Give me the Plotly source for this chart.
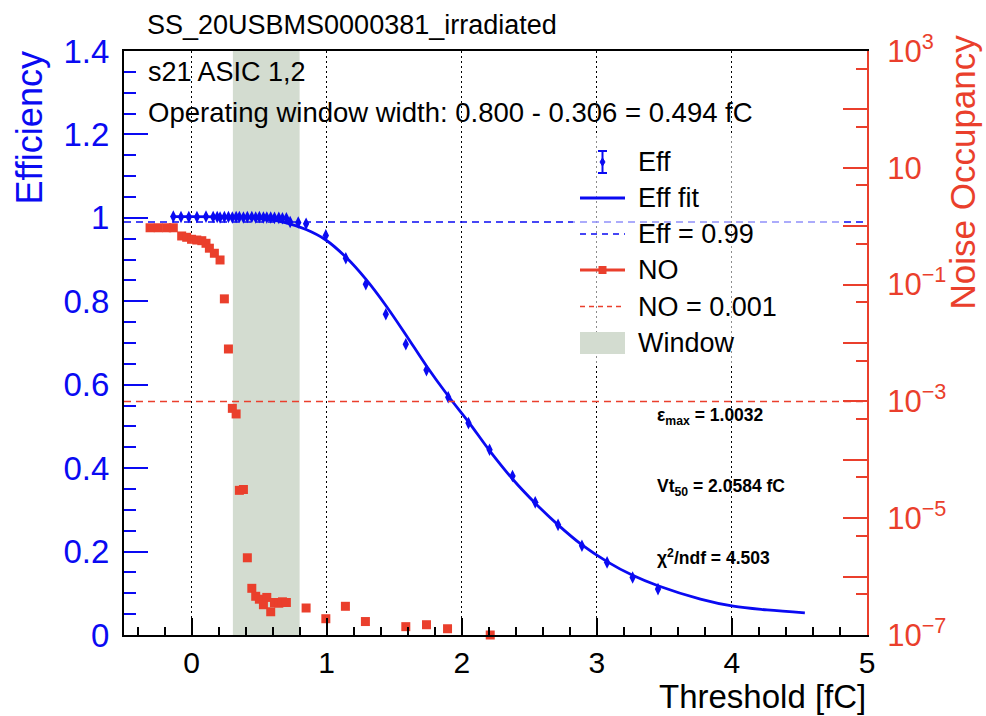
import plotly.graph_objects as go

# ---------------- data ----------------
eff_x = [-0.135, -0.078, -0.02, 0.04, 0.107, 0.16, 0.19, 0.211, 0.243, 0.273, 0.302, 0.33,
         0.354, 0.384, 0.413, 0.446, 0.475, 0.502, 0.532, 0.557, 0.586, 0.614, 0.646, 0.673,
         0.702, 0.73, 0.79, 0.848, 0.994, 1.142, 1.29, 1.438, 1.586, 1.739, 1.9, 2.05,
         2.206, 2.376, 2.544, 2.713, 2.89, 3.076, 3.265, 3.453]
eff_y = [1.003, 1.002, 1.002, 1.002, 1.003, 1.002, 1.002, 1.001, 1.002, 1.002, 1.001, 1.002,
         1.002, 1.001, 1.002, 1.002, 1.001, 1.002, 1.001, 1.001, 1.001, 1.0, 1.0, 0.999,
         0.999, 0.99, 0.989, 0.986, 0.958, 0.903, 0.841, 0.769, 0.697, 0.635, 0.570, 0.508,
         0.444, 0.381, 0.318, 0.264, 0.214, 0.174, 0.138, 0.110]
eff_err = [0.004, 0.004, 0.004, 0.004, 0.004, 0.004, 0.004, 0.004, 0.004, 0.004, 0.004, 0.004,
           0.004, 0.004, 0.004, 0.004, 0.004, 0.004, 0.004, 0.004, 0.004, 0.004, 0.004, 0.004,
           0.005, 0.006, 0.006, 0.007, 0.008, 0.009, 0.009, 0.010, 0.010, 0.010, 0.010, 0.010,
           0.010, 0.010, 0.009, 0.009, 0.008, 0.008, 0.008, 0.009]

fit_x = [-0.135, 0.3, 0.55, 0.7, 0.848, 0.994, 1.142, 1.29, 1.438, 1.586, 1.739, 1.9, 2.05,
         2.206, 2.376, 2.544, 2.713, 2.89, 3.076, 3.265, 3.453, 3.767, 4.01, 4.26, 4.54]
fit_y = [1.003, 1.002, 0.997, 0.988, 0.972, 0.947, 0.906, 0.853, 0.79, 0.72, 0.645, 0.573,
         0.511, 0.442, 0.374, 0.316, 0.264, 0.216, 0.176, 0.143, 0.118, 0.086, 0.069, 0.06,
         0.053]

no_x = [-0.307, -0.246, -0.184, -0.135, -0.073, -0.036, 0.0, 0.039, 0.076, 0.107, 0.132,
        0.169, 0.211, 0.243, 0.273, 0.302, 0.33, 0.354, 0.384, 0.413, 0.446, 0.475, 0.502,
        0.532, 0.557, 0.586, 0.614, 0.646, 0.673, 0.702, 0.848, 0.994, 1.139, 1.287, 1.586,
        1.739, 1.895, 2.211]
no_y = [0.94, 0.94, 0.94, 0.94, 0.68, 0.646, 0.597, 0.58, 0.565, 0.51, 0.42,
        0.344, 0.264, 0.057, 0.0079, 7.6e-4, 6.1e-4, 3.0e-5, 3.1e-5, 2.1e-6, 6.3e-7, 4.6e-7, 4.1e-7,
        3.3e-7, 4.4e-7, 2.5e-7, 3.6e-7, 3.5e-7, 3.7e-7, 3.6e-7, 2.9e-7, 1.9e-7, 3.1e-7, 1.7e-7, 1.39e-7,
        1.5e-7, 1.28e-7, 1.0e-7]

eff_threshold = 0.99
no_threshold = 0.001
window_lo = 0.306
window_hi = 0.800
x_range = [-0.5, 5.0]

no_tickvals = [1e-7, 1e-6, 1e-5, 1e-4, 1e-3, 1e-2, 1e-1, 1, 10, 100, 1000]
no_ticktext = ["10<sup>−7</sup>", "", "10<sup>−5</sup>", "", "10<sup>−3</sup>", "",
               "10<sup>−1</sup>", "", "10", "", "10<sup>3</sup>"]
no_minorvals = [5e-7, 5e-6, 5e-5, 5e-4, 5e-3, 5e-2, 0.5, 5, 50, 500]

title_text = "SS_20USBMS0000381_irradiated"
asic_text = "s21 ASIC 1,2"
window_text = "Operating window width: 0.800 - 0.306 = 0.494 fC"
stats_text = ["<b>ε<sub>max</sub> = 1.0032</b>", "<b>Vt<sub>50</sub> = 2.0584 fC</b>",
              "<b>χ<sup>2</sup>/ndf = 4.503</b>"]
legend_labels = ["Eff", "Eff fit", "Eff = 0.99", "NO", "NO = 0.001", "Window"]

# ---------------- style ----------------
FONT = "Liberation Sans, Arial, Helvetica, sans-serif"
BLUE = "#0a0af2"
RED = "#ea3f2c"
WIN = "#d3dcd0"
W, H = 986, 716
L, R, T, B = 124, 867, 51, 635


def px(x):
    return (x - L) / (R - L)


def py(y):
    return (B - y) / (B - T)


fig = go.Figure()

fig.add_trace(go.Scatter(x=fit_x, y=fit_y, mode="lines", line=dict(color=BLUE, width=2.8, shape="spline"),
                         showlegend=False, hoverinfo="skip"))
fig.add_trace(go.Scatter(x=eff_x, y=eff_y, mode="markers",
                         marker=dict(symbol="diamond-tall", size=9, color=BLUE),
                         error_y=dict(type="data", array=eff_err, color=BLUE, thickness=1.5, width=0),
                         showlegend=False))
fig.add_trace(go.Scatter(x=x_range, y=[eff_threshold, eff_threshold], mode="lines",
                         line=dict(color=BLUE, width=1.5, dash="7px,5px"), showlegend=False))
fig.add_trace(go.Scatter(x=no_x, y=no_y, mode="markers", yaxis="y2", cliponaxis=False,
                         marker=dict(symbol="square", size=9, color=RED), showlegend=False))
fig.add_trace(go.Scatter(x=x_range, y=[no_threshold, no_threshold], mode="lines", yaxis="y2",
                         line=dict(color=RED, width=1.5, dash="7px,5px"), showlegend=False))

shapes = []
# operating window band
shapes.append(dict(type="rect", xref="x", yref="paper", x0=window_lo, x1=window_hi, y0=0, y1=1,
                   fillcolor=WIN, line=dict(width=0), layer="below"))
# legend background (semi transparent)
shapes.append(dict(type="rect", xref="paper", yref="paper", x0=px(573), x1=px(843), y0=py(365), y1=py(135),
                   fillcolor="rgba(255,255,255,0.55)", line=dict(width=0), layer="above"))

ly = [162, 198, 234, 270, 306.5, 343]
sx0, sx1, sxc = 580, 625, 602.5
# Eff symbol: error bar with caps + diamond
shapes.append(dict(type="line", xref="paper", yref="paper", x0=px(sxc), x1=px(sxc), y0=py(ly[0] - 11), y1=py(ly[0] + 11),
                   line=dict(color=BLUE, width=2), layer="above"))
for cy in (ly[0] - 11, ly[0] + 11):
    shapes.append(dict(type="line", xref="paper", yref="paper", x0=px(sxc - 4.5), x1=px(sxc + 4.5), y0=py(cy), y1=py(cy),
                       line=dict(color=BLUE, width=2), layer="above"))
shapes.append(dict(type="path", xref="paper", yref="paper",
                   path="M {a},{b} L {c},{d} L {a},{e} L {f},{d} Z".format(
                       a=px(sxc), b=py(ly[0] - 4), c=px(sxc + 2.5), d=py(ly[0]), e=py(ly[0] + 4), f=px(sxc - 2.5)),
                   fillcolor=BLUE, line=dict(color=BLUE, width=1), layer="above"))
# Eff fit
shapes.append(dict(type="line", xref="paper", yref="paper", x0=px(sx0), x1=px(sx1), y0=py(ly[1]), y1=py(ly[1]),
                   line=dict(color=BLUE, width=3), layer="above"))
# Eff = 0.99
shapes.append(dict(type="line", xref="paper", yref="paper", x0=px(sx0), x1=px(sx1), y0=py(ly[2]), y1=py(ly[2]),
                   line=dict(color=BLUE, width=1.5, dash="6px,5px"), layer="above"))
# NO
shapes.append(dict(type="line", xref="paper", yref="paper", x0=px(sx0), x1=px(sx1), y0=py(ly[3]), y1=py(ly[3]),
                   line=dict(color=RED, width=3), layer="above"))
shapes.append(dict(type="rect", xref="paper", yref="paper", x0=px(sxc - 4), x1=px(sxc + 4), y0=py(ly[3] - 4), y1=py(ly[3] + 4),
                   fillcolor=RED, line=dict(width=0), layer="above"))
# NO = 0.001
shapes.append(dict(type="line", xref="paper", yref="paper", x0=px(sx0), x1=px(sx1), y0=py(ly[4]), y1=py(ly[4]),
                   line=dict(color=RED, width=1.3, dash="5px,4px"), layer="above"))
# Window
shapes.append(dict(type="rect", xref="paper", yref="paper", x0=px(sx0), x1=px(sx1), y0=py(ly[5] + 11), y1=py(ly[5] - 11),
                   fillcolor=WIN, line=dict(width=0), layer="above"))

ann = []
ann.append(dict(text=title_text, xref="paper", yref="paper", x=px(145), y=py(25), xanchor="left", yanchor="middle",
                showarrow=False, font=dict(family=FONT, size=27, color="black")))
ann.append(dict(text=asic_text, xref="paper", yref="paper", x=px(146), y=py(72), xanchor="left", yanchor="middle",
                showarrow=False, font=dict(family=FONT, size=27, color="black")))
ann.append(dict(text=window_text, xref="paper", yref="paper", x=px(146), y=py(113), xanchor="left", yanchor="middle",
                showarrow=False, font=dict(family=FONT, size=27.5, color="black")))
for t, yy in zip(stats_text, [416, 487, 557]):
    ann.append(dict(text=t, xref="paper", yref="paper", x=px(655), y=py(yy), xanchor="left", yanchor="middle",
                    showarrow=False, font=dict(family=FONT, size=17.5, color="black")))
for t, yy in zip(legend_labels, ly):
    ann.append(dict(text=t, xref="paper", yref="paper", x=px(636), y=py(yy), xanchor="left", yanchor="middle",
                    showarrow=False, font=dict(family=FONT, size=27, color="black")))
# axis titles
ann.append(dict(text="Efficiency", xref="paper", yref="paper", x=px(29), y=py(50), xanchor="center", yanchor="top",
                textangle=-90, showarrow=False, font=dict(family=FONT, size=36, color=BLUE)))
ann.append(dict(text="Noise Occupancy", xref="paper", yref="paper", x=px(962), y=py(33), xanchor="center", yanchor="top",
                textangle=-90, showarrow=False, font=dict(family=FONT, size=35, color=RED)))
ann.append(dict(text="Threshold [fC]", xref="paper", yref="paper", x=px(868), y=py(717), xanchor="right", yanchor="bottom",
                showarrow=False, font=dict(family=FONT, size=33, color="black")))

fig.update_layout(
    width=W, height=H,
    margin=dict(l=L, r=W - R, t=T, b=H - B),
    paper_bgcolor="white", plot_bgcolor="white",
    showlegend=False,
    shapes=shapes, annotations=ann,
    font=dict(family=FONT),
    xaxis=dict(range=x_range, tick0=0, dtick=1, ticks="inside", ticklen=17, tickwidth=1.5, tickcolor="black",
               minor=dict(dtick=0.2, tick0=0, ticks="inside", ticklen=8, tickwidth=1.5, tickcolor="black"),
               showgrid=True, gridcolor="black", griddash="2px,3px", gridwidth=1.4,
               showline=True, linecolor="black", linewidth=2, mirror=True, zeroline=False,
               tickfont=dict(family=FONT, size=30, color="black"), ticklabelstandoff=0),
    yaxis=dict(range=[0, 1.4], tick0=0, dtick=0.2, ticks="inside", ticklen=24, tickwidth=1.5, tickcolor=BLUE,
               minor=dict(dtick=0.05, tick0=0, ticks="inside", ticklen=12, tickwidth=1.5, tickcolor=BLUE),
               showgrid=False, showline=True, linecolor="black", linewidth=2, zeroline=False,
               tickfont=dict(family=FONT, size=33, color=BLUE), ticklabelstandoff=6),
    yaxis2=dict(type="log", range=[-7, 3], overlaying="y", side="right", tickmode="array",
                tickvals=no_tickvals, ticktext=no_ticktext, ticks="inside", ticklen=24, tickwidth=1.5, tickcolor=RED,
                minor=dict(tickmode="array", tickvals=no_minorvals, ticks="inside", ticklen=11, tickwidth=1.5,
                           tickcolor=RED),
                showgrid=False, showline=True, linecolor=RED, linewidth=2, zeroline=False,
                tickfont=dict(family=FONT, size=31, color=RED), ticklabelstandoff=12),
)

fig.write_html("out.html")
